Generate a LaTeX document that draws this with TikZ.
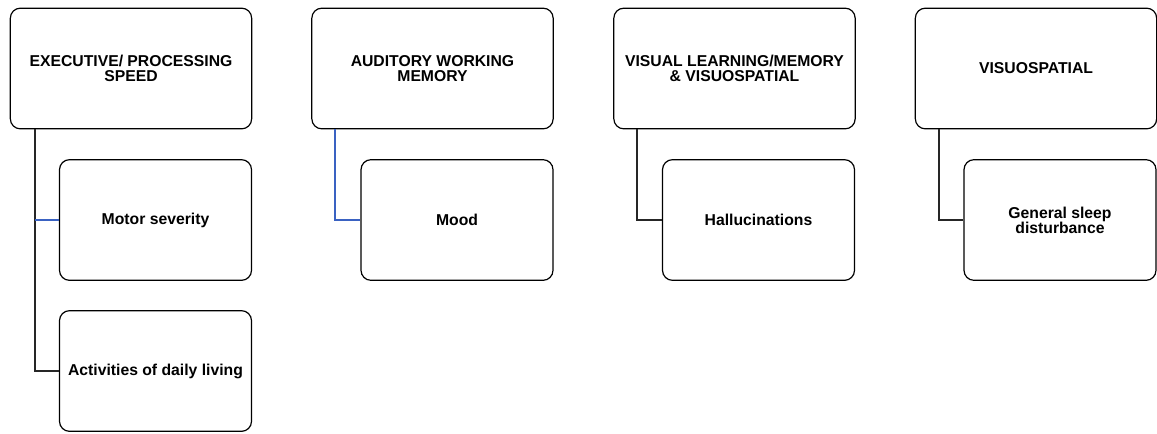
\documentclass[tikz,border=0pt]{standalone}
\usepackage{fontspec}
\setmainfont{Liberation Sans}
\usepackage{xcolor}
\usepackage{tikz}
\usetikzlibrary{positioning}

\definecolor{linkblue}{HTML}{3A62C2}

\tikzset{
  box/.style={draw, rounded corners=7.5pt, line width=0.9pt, align=center,
    font=\fontsize{11.8}{11.3}\selectfont\bfseries, inner sep=2pt},
  topbox/.style={box, minimum width=181pt, minimum height=90.5pt},
  subbox/.style={box, minimum width=144pt, minimum height=90.5pt},
  link/.style={line width=1.2pt, black!85},
  bluelink/.style={line width=1.2pt, linkblue}
}

\begin{document}
\begin{tikzpicture}[x=0.75pt, y=-0.75pt]
    \useasboundingbox (0,0) rectangle (1157,433);

    % top row
    \node[topbox] (exec) at (131,68.5) {EXECUTIVE/ PROCESSING\\SPEED};
    \node[topbox] (audit) at (432.5,68.5) {AUDITORY WORKING\\MEMORY};
    \node[topbox] (visual) at (734.5,68.5) {VISUAL LEARNING/MEMORY\\\& VISUOSPATIAL};
    \node[topbox] (spatial) at (1036,68.5) {VISUOSPATIAL};

    % sub boxes
    \node[subbox] (motor) at (155.5,220) {Motor severity};
    \node[subbox] (daily) at (155.5,371) {Activities of daily living};
    \node[subbox] (mood) at (457,220) {Mood};
    \node[subbox] (halluc) at (758.5,220) {Hallucinations};
    \node[subbox] (sleep) at (1060,220) {General sleep\\disturbance};

    % connectors
    \draw[link] ([xshift=18.75pt]exec.south west) |- (daily.west);
    \draw[bluelink] ([xshift=18.75pt]exec.south west |- motor.west) -- (motor.west);
    \draw[bluelink] ([xshift=18pt]audit.south west) |- (mood.west);
    \draw[link] ([xshift=18pt]visual.south west) |- (halluc.west);
    \draw[link] ([xshift=18pt]spatial.south west) |- (sleep.west);
\end{tikzpicture}
\end{document}
